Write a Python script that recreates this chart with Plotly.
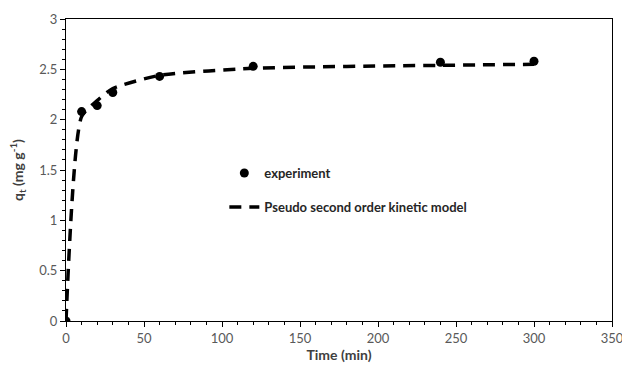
import plotly.graph_objects as go

time_exp = [0, 10, 20, 30, 60, 120, 240, 300]
q_exp = [0, 2.08, 2.14, 2.27, 2.43, 2.53, 2.57, 2.58]

time_model = [0, 10, 20, 30, 60, 120, 240, 300]
q_model = [0, 2.03, 2.19, 2.31, 2.44, 2.51, 2.54, 2.55]

FONT = "Lato"

fig = go.Figure()
fig.add_trace(go.Scatter(
    x=time_model, y=q_model, mode="lines", name="<b>Pseudo second order kinetic model</b>",
    line=dict(color="black", width=3.5, dash="12px,8px", shape="spline", smoothing=0.6),
    legend="legend2",
))
fig.add_trace(go.Scatter(
    x=time_exp, y=q_exp, mode="markers", name="<b>experiment</b>",
    marker=dict(color="black", size=9),
    legend="legend",
))

axis_common = dict(
    showgrid=False, zeroline=False, showline=True, linecolor="black", linewidth=1,
    mirror=True, ticks="outside", ticklen=5, tickcolor="black", automargin=False,
    ticklabeloverflow="allow",
    tickfont=dict(family=FONT, size=13, color="#595959"),
)

fig.update_layout(
    width=622, height=365,
    margin=dict(l=66, r=10, t=19, b=44, autoexpand=False),
    plot_bgcolor="white", paper_bgcolor="white",
    xaxis=dict(range=[0, 350], dtick=50, **axis_common,
               minor=dict(dtick=10, ticks="outside", ticklen=3, tickcolor="black"),
               title=dict(text="<b>Time (min)</b>", font=dict(family=FONT, size=14, color="#404040"), standoff=0)),
    yaxis=dict(range=[0, 3], dtick=0.5, **axis_common,
               minor=dict(dtick=0.1, ticks="outside", ticklen=3, tickcolor="black"),
               title=dict(text="<b>q<sub>t</sub> (mg g<sup>-1</sup>)</b>", font=dict(family=FONT, size=14, color="#404040"), standoff=12)),
    legend=dict(x=0.29, y=0.49, xanchor="left", yanchor="middle", bgcolor="rgba(0,0,0,0)",
                font=dict(family=FONT, size=13, color="#262626"), itemwidth=30),
    legend2=dict(x=0.29, y=0.377, xanchor="left", yanchor="middle", bgcolor="rgba(0,0,0,0)",
                 font=dict(family=FONT, size=13, color="#262626"), itemwidth=30),
    showlegend=True,
)

fig.write_html(
    "out.html",
    config={"displayModeBar": False},
    post_script="document.body.style.margin='0';document.body.style.overflow='hidden';",
)
